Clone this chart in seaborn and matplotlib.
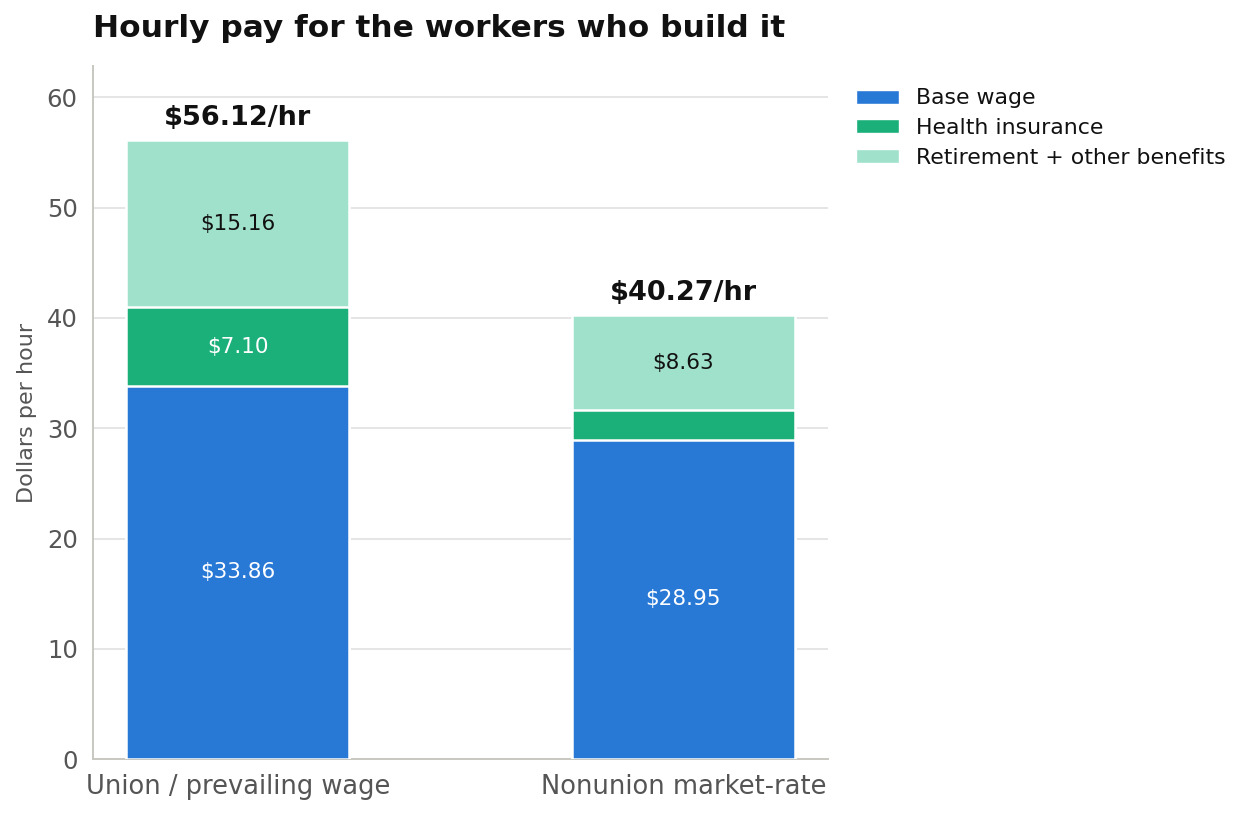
import matplotlib
matplotlib.use("Agg")
import matplotlib.pyplot as plt
import seaborn as sns
import pandas as pd
from matplotlib.patches import Patch

categories = ["Union / prevailing wage", "Nonunion market-rate"]
base_wage = [33.86, 28.95]
health = [7.10, 2.69]
retirement = [15.16, 8.63]
series_names = ["Base wage", "Health insurance", "Retirement + other benefits"]
colors = ["#2878d6", "#1baf7a", "#a0e1cb"]

sns.set_theme(style="white")
plt.rcParams['font.family'] = ['DejaVu Sans']

fig = plt.figure(figsize=(12.48, 8.15), dpi=100)
ax = fig.add_axes([0.0745, 0.0687, 0.589, 0.8503])

totals = [b + h + r for b, h, r in zip(base_wage, health, retirement)]
mid = [b + h for b, h in zip(base_wage, health)]

layers = [(totals, colors[2]), (mid, colors[1]), (base_wage, colors[0])]
for vals, col in layers:
    df = pd.DataFrame({"cat": categories, "val": vals})
    sns.barplot(data=df, x="cat", y="val", color=col, width=0.5,
                edgecolor="white", linewidth=1.8, saturation=1, ax=ax, zorder=3)

ax.set_xlim(-0.325, 1.325)
ax.set_ylim(0, max(totals) * 1.12)
ax.set_yticks([0, 10, 20, 30, 40, 50, 60])
ax.yaxis.grid(True, color="#e0e0e0", linewidth=1.2, zorder=0)
ax.set_axisbelow(True)
for s in ["top", "right"]:
    ax.spines[s].set_visible(False)
for s in ["left", "bottom"]:
    ax.spines[s].set_color("#c8c8c0")
    ax.spines[s].set_linewidth(1.4)
ax.tick_params(axis="both", colors="#555555", length=6, width=1.2,
               labelcolor="#555555")
ax.tick_params(axis="x", labelsize=18.5, pad=5)
ax.tick_params(axis="y", labelsize=17.5, pad=5)
ax.set_xlabel("")
ax.set_ylabel("Dollars per hour", fontsize=16, color="#555555", labelpad=7)

segs = [base_wage, health, retirement]
text_colors = ["white", "white", "#111111"]
for i in range(len(categories)):
    bottom = 0
    for k, vals in enumerate(segs):
        v = vals[i]
        if v >= 4:
            ax.text(i, bottom + v / 2, f"${v:.2f}", ha="center", va="center",
                    fontsize=15.5, color=text_colors[k], zorder=5)
        bottom += v
    ax.text(i, totals[i] + 0.8, f"${totals[i]:.2f}/hr", ha="center", va="bottom",
            fontsize=19.5, fontweight="bold", color="#111111", zorder=5)

ax.set_title("Hourly pay for the workers who build it", loc="left", fontsize=22.5,
             fontweight="bold", color="#111111", pad=21, x=0.0)

handles = [Patch(facecolor=c, edgecolor="white", label=n) for c, n in zip(colors, series_names)]
leg = ax.legend(handles=handles, loc="upper left", bbox_to_anchor=(1.017, 0.99), frameon=False,
                fontsize=15.8, handlelength=1.95, handleheight=0.6, labelspacing=0.45,
                handletextpad=0.8, borderaxespad=0.3)
for t in leg.get_texts():
    t.set_color("#111111")

fig.savefig("out.png", dpi=100)
